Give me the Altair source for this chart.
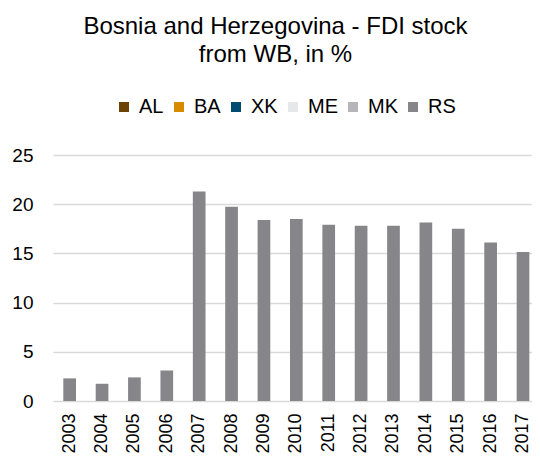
import altair as alt
import pandas as pd

years = [str(y) for y in range(2003, 2018)]
rs_values = [2.3, 1.75, 2.4, 3.1, 21.3, 19.75, 18.4, 18.5, 17.9, 17.8, 17.8, 18.15, 17.5, 16.1, 15.15]
series = ["AL", "BA", "XK", "ME", "MK", "RS"]
series_colors = ["#6b4304", "#d98b00", "#004c70", "#e6e7e9", "#b6b6ba", "#86868a"]
y_ticks = [0, 5, 10, 15, 20, 25]
title_lines = ["Bosnia and Herzegovina - FDI stock", "from WB, in %"]

df = pd.DataFrame({"year": years, "value": rs_values, "series": ["RS"] * len(years)})

FONT = "Liberation Sans"

chart = alt.Chart(df).mark_bar().encode(
    x=alt.X("year:N", title=None, sort=years,
            scale=alt.Scale(paddingInner=0.608, paddingOuter=0.2, align=0.796),
            axis=alt.Axis(labelAngle=-90, labelFontSize=18, labelFont=FONT, labelColor="#000000",
                          ticks=False, tickSize=0, domain=False, labelPadding=12,
                          labelAlign="right", labelBaseline="middle")),
    y=alt.Y("value:Q", title=None,
            scale=alt.Scale(domain=[0, 25], nice=False),
            axis=alt.Axis(values=y_ticks, labelFontSize=19, labelFont=FONT, labelColor="#000000",
                          ticks=False, tickSize=0, domain=False, labelPadding=20,
                          grid=True, gridColor="#d9d9d9", gridWidth=1.5)),
    color=alt.Color("series:N", scale=alt.Scale(domain=series, range=series_colors),
                    legend=alt.Legend(title=None, orient="none", legendX=61, legendY=-58,
                                      direction="horizontal", symbolType="square", symbolSize=100,
                                      symbolStrokeWidth=0, labelFontSize=20, labelFont=FONT,
                                      labelColor="#000000", labelOffset=5, columnPadding=5,
                                      gridAlign="each")),
).properties(
    width=479,
    height=246,
    autosize=alt.AutoSizeParams(type="none"),
    padding={"left": 45, "top": 147, "right": 0, "bottom": 54},
    title=alt.TitleParams(title_lines, fontSize=24, font=FONT, fontWeight="normal", color="#000000",
                          anchor="middle", lineHeight=28, dx=-17, dy=-26),
).configure_view(stroke=None)

chart.save("out.html", embed_options={"renderer": "svg", "actions": False})
